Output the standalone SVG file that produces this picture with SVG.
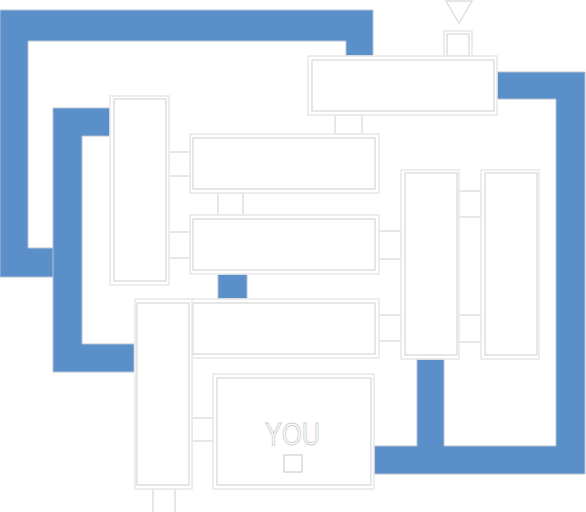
<svg xmlns="http://www.w3.org/2000/svg" width="586" height="512" viewBox="0 0 586 512">
  <style>
    .corr { fill: #5b8fca; stroke: #b7c2d2; stroke-width: 1; }
    .outer { fill: #ffffff; stroke: #e9e9e9; stroke-width: 1.6; }
    .inner { fill: #ffffff; stroke: #dcdcdc; stroke-width: 1.4; }
    .door { fill: #ffffff; stroke: #e0e0e0; stroke-width: 1.5; }
    .you { font-family: "Liberation Sans", Arial, sans-serif; font-size: 31px; fill: #ffffff; stroke: #cfcfcf; stroke-width: 1; }
  </style>
  <rect width="586" height="512" fill="#ffffff"/>

  <g id="corridors">
    <polygon class="corr" points="0,10 373,10 373,56 346,56 346,41 28,41 28,248 54,248 54,277 0,277"/>
    <polygon class="corr" points="53,108 111,108 111,136 82,136 82,344 134,344 134,372 53,372"/>
    <rect class="corr" x="218" y="274" width="29" height="25"/>
    <polygon class="corr" points="496,72 585,72 585,474 372,474 372,446 417,446 417,359 444,359 444,446 556,446 556,99 496,99"/>
  </g>

  <g id="connectors">
    <rect class="door" x="335" y="115" width="27" height="19"/>
    <rect class="door" x="218" y="193" width="25" height="22"/>
    <rect class="door" x="169" y="152" width="21" height="24"/>
    <rect class="door" x="169" y="232" width="21" height="26"/>
    <rect class="door" x="459" y="191" width="22" height="26"/>
    <rect class="door" x="459" y="315" width="22" height="27"/>
    <rect class="door" x="379" y="231" width="22" height="28"/>
    <rect class="door" x="379" y="315" width="22" height="26"/>
    <rect class="door" x="192" y="418" width="21" height="23"/>
    <rect class="door" x="153" y="489" width="22" height="24"/>
  </g>

  <g id="entrance">
    <polygon points="446,1 472,1 459,23" fill="#ffffff" stroke="#dedede" stroke-width="1.4"/>
    <rect class="outer" x="444" y="31" width="28" height="25"/>
    <rect class="inner" x="447" y="34" width="22" height="22"/>
  </g>

  <g id="box-top">
    <rect class="outer" x="308" y="56" width="189" height="59"/>
    <rect class="inner" x="312" y="60" width="182" height="51"/>
  </g>

  <g id="box-left-tall">
    <rect class="outer" x="110" y="96" width="59" height="189"/>
    <rect class="inner" x="114" y="99" width="52" height="182"/>
  </g>

  <g id="box-a">
    <rect class="outer" x="190" y="134" width="189" height="59"/>
    <rect class="inner" x="193" y="138" width="182" height="51"/>
  </g>

  <g id="box-b">
    <rect class="outer" x="190" y="215" width="189" height="59"/>
    <rect class="inner" x="193" y="219" width="182" height="51"/>
  </g>

  <g id="box-c">
    <rect class="outer" x="401" y="170" width="58" height="189"/>
    <rect class="inner" x="405" y="173" width="52" height="182"/>
  </g>

  <g id="box-d">
    <rect class="outer" x="481" y="170" width="58" height="189"/>
    <rect class="inner" x="485" y="173" width="52" height="182"/>
  </g>

  <g id="box-e">
    <rect class="outer" x="192" y="299" width="187" height="59"/>
    <rect class="inner" x="193" y="303" width="182" height="51"/>
  </g>

  <g id="box-f">
    <rect class="outer" x="135" y="299" width="57" height="190"/>
    <rect class="inner" x="137" y="303" width="52" height="182"/>
  </g>

  <g id="box-you">
    <rect class="outer" x="213" y="374" width="161" height="115"/>
    <rect class="inner" x="217" y="378" width="154" height="107"/>
    <text class="you" x="265" y="445" textLength="55" lengthAdjust="spacingAndGlyphs">YOU</text>
    <rect x="284" y="455" width="18" height="17" fill="#ffffff" stroke="#d6d6d6" stroke-width="1.4"/>
  </g>
</svg>
